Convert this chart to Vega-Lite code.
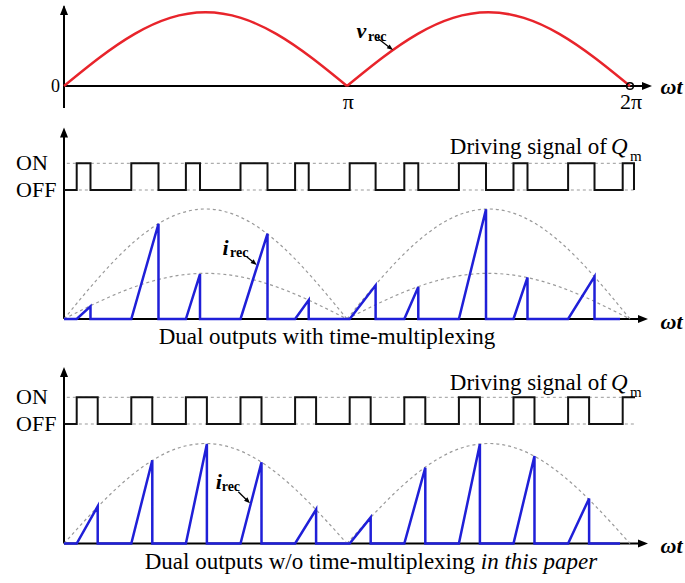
{
 "$schema": "https://vega.github.io/schema/vega-lite/v6.json",
 "padding": 0,
 "spacing": 0,
 "bounds": "flush",
 "background": "white",
 "config": {"view": {"stroke": null}, "axis": {"disable": true}, "font": "Liberation Serif"},
 "datasets": {
  "one": [{}],
  "vrec": [
   {"half":"a","t":0,"v":0},{"half":"a","t":0.125,"v":0.383},{"half":"a","t":0.25,"v":0.707},{"half":"a","t":0.375,"v":0.924},{"half":"a","t":0.5,"v":1},{"half":"a","t":0.625,"v":0.924},{"half":"a","t":0.75,"v":0.707},{"half":"a","t":0.875,"v":0.383},{"half":"a","t":1,"v":0},
   {"half":"b","t":1,"v":0},{"half":"b","t":1.125,"v":0.383},{"half":"b","t":1.25,"v":0.707},{"half":"b","t":1.375,"v":0.924},{"half":"b","t":1.5,"v":1},{"half":"b","t":1.625,"v":0.924},{"half":"b","t":1.75,"v":0.707},{"half":"b","t":1.875,"v":0.383},{"half":"b","t":2,"v":0}
  ],
  "env2": [
   {"env":"b1","t":0,"i":0},{"env":"b1","t":0.125,"i":0.383},{"env":"b1","t":0.25,"i":0.707},{"env":"b1","t":0.375,"i":0.924},{"env":"b1","t":0.5,"i":1},{"env":"b1","t":0.625,"i":0.924},{"env":"b1","t":0.75,"i":0.707},{"env":"b1","t":0.875,"i":0.383},{"env":"b1","t":1,"i":0},
   {"env":"b2","t":1,"i":0},{"env":"b2","t":1.125,"i":0.383},{"env":"b2","t":1.25,"i":0.707},{"env":"b2","t":1.375,"i":0.924},{"env":"b2","t":1.5,"i":1},{"env":"b2","t":1.625,"i":0.924},{"env":"b2","t":1.75,"i":0.707},{"env":"b2","t":1.875,"i":0.383},{"env":"b2","t":2,"i":0},
   {"env":"s1","t":0,"i":0},{"env":"s1","t":0.125,"i":0.159},{"env":"s1","t":0.25,"i":0.293},{"env":"s1","t":0.375,"i":0.383},{"env":"s1","t":0.5,"i":0.415},{"env":"s1","t":0.625,"i":0.383},{"env":"s1","t":0.75,"i":0.293},{"env":"s1","t":0.875,"i":0.159},{"env":"s1","t":1,"i":0},
   {"env":"s2","t":1,"i":0},{"env":"s2","t":1.125,"i":0.159},{"env":"s2","t":1.25,"i":0.293},{"env":"s2","t":1.375,"i":0.383},{"env":"s2","t":1.5,"i":0.415},{"env":"s2","t":1.625,"i":0.383},{"env":"s2","t":1.75,"i":0.293},{"env":"s2","t":1.875,"i":0.159},{"env":"s2","t":2,"i":0}
  ],
  "env3": [
   {"env":"b1","t":0,"i":0},{"env":"b1","t":0.125,"i":0.383},{"env":"b1","t":0.25,"i":0.707},{"env":"b1","t":0.375,"i":0.924},{"env":"b1","t":0.5,"i":1},{"env":"b1","t":0.625,"i":0.924},{"env":"b1","t":0.75,"i":0.707},{"env":"b1","t":0.875,"i":0.383},{"env":"b1","t":1,"i":0},
   {"env":"b2","t":1,"i":0},{"env":"b2","t":1.125,"i":0.383},{"env":"b2","t":1.25,"i":0.707},{"env":"b2","t":1.375,"i":0.924},{"env":"b2","t":1.5,"i":1},{"env":"b2","t":1.625,"i":0.924},{"env":"b2","t":1.75,"i":0.707},{"env":"b2","t":1.875,"i":0.383},{"env":"b2","t":2,"i":0}
  ],
  "sig2": [
   {"k":0,"t":0,"s":0},{"k":1,"t":0.0449,"s":1},{"k":2,"t":0.0936,"s":0},{"k":3,"t":0.2378,"s":1},{"k":4,"t":0.3339,"s":0},{"k":5,"t":0.4307,"s":1},{"k":6,"t":0.4806,"s":0},{"k":7,"t":0.6237,"s":1},{"k":8,"t":0.7191,"s":0},{"k":9,"t":0.8166,"s":1},{"k":10,"t":0.8647,"s":0},{"k":11,"t":1.0095,"s":1},{"k":12,"t":1.1011,"s":0},{"k":13,"t":1.2025,"s":1},{"k":14,"t":1.2519,"s":0},{"k":15,"t":1.3954,"s":1},{"k":16,"t":1.4912,"s":0},{"k":17,"t":1.5883,"s":1},{"k":18,"t":1.6378,"s":0},{"k":19,"t":1.7813,"s":1},{"k":20,"t":1.8746,"s":0},{"k":21,"t":1.9742,"s":1},{"k":22,"t":2.0141,"s":0}
  ],
  "sig3": [
   {"k":0,"t":0,"s":0},{"k":1,"t":0.0449,"s":1},{"k":2,"t":0.1191,"s":0},{"k":3,"t":0.2378,"s":1},{"k":4,"t":0.312,"s":0},{"k":5,"t":0.4307,"s":1},{"k":6,"t":0.5049,"s":0},{"k":7,"t":0.6237,"s":1},{"k":8,"t":0.6979,"s":0},{"k":9,"t":0.8166,"s":1},{"k":10,"t":0.8908,"s":0},{"k":11,"t":1.0095,"s":1},{"k":12,"t":1.0837,"s":0},{"k":13,"t":1.2025,"s":1},{"k":14,"t":1.2767,"s":0},{"k":15,"t":1.3954,"s":1},{"k":16,"t":1.4696,"s":0},{"k":17,"t":1.5883,"s":1},{"k":18,"t":1.6625,"s":0},{"k":19,"t":1.7813,"s":1},{"k":20,"t":1.8555,"s":0},{"k":21,"t":1.9742,"s":1},{"k":22,"t":2.0177,"s":1}
  ],
  "cur2": [
   {"k":0,"t":0,"i":0},{"k":1,"t":0.0449,"i":0},{"k":2,"t":0.0936,"i":0.115},{"k":3,"t":0.0936,"i":0},
   {"k":4,"t":0.2378,"i":0},{"k":5,"t":0.3339,"i":0.866},{"k":6,"t":0.3339,"i":0},
   {"k":7,"t":0.4307,"i":0},{"k":8,"t":0.4806,"i":0.409},{"k":9,"t":0.4806,"i":0},
   {"k":10,"t":0.6237,"i":0},{"k":11,"t":0.7191,"i":0.776},{"k":12,"t":0.7191,"i":0},
   {"k":13,"t":0.8166,"i":0},{"k":14,"t":0.8647,"i":0.172},{"k":15,"t":0.8647,"i":0},
   {"k":16,"t":1.0095,"i":0},{"k":17,"t":1.1011,"i":0.306},{"k":18,"t":1.1011,"i":0},
   {"k":19,"t":1.2025,"i":0},{"k":20,"t":1.2519,"i":0.29},{"k":21,"t":1.2519,"i":0},
   {"k":22,"t":1.3954,"i":0},{"k":23,"t":1.4912,"i":0.998},{"k":24,"t":1.4912,"i":0},
   {"k":25,"t":1.5883,"i":0},{"k":26,"t":1.6378,"i":0.378},{"k":27,"t":1.6378,"i":0},
   {"k":28,"t":1.7813,"i":0},{"k":29,"t":1.8746,"i":0.386},{"k":30,"t":1.8746,"i":0},
   {"k":31,"t":1.9647,"i":0}
  ],
  "cur3": [
   {"k":0,"t":0,"i":0},{"k":1,"t":0.0449,"i":0},{"k":2,"t":0.1191,"i":0.372},{"k":3,"t":0.1191,"i":0},
   {"k":4,"t":0.2378,"i":0},{"k":5,"t":0.312,"i":0.833},{"k":6,"t":0.312,"i":0},
   {"k":7,"t":0.4307,"i":0},{"k":8,"t":0.5049,"i":0.995},{"k":9,"t":0.5049,"i":0},
   {"k":10,"t":0.6237,"i":0},{"k":11,"t":0.6979,"i":0.813},{"k":12,"t":0.6979,"i":0},
   {"k":13,"t":0.8166,"i":0},{"k":14,"t":0.8908,"i":0.34},{"k":15,"t":0.8908,"i":0},
   {"k":16,"t":1.0095,"i":0},{"k":17,"t":1.0837,"i":0.261},{"k":18,"t":1.0837,"i":0},
   {"k":19,"t":1.2025,"i":0},{"k":20,"t":1.2767,"i":0.758},{"k":21,"t":1.2767,"i":0},
   {"k":22,"t":1.3954,"i":0},{"k":23,"t":1.4696,"i":0.995},{"k":24,"t":1.4696,"i":0},
   {"k":25,"t":1.5883,"i":0},{"k":26,"t":1.6625,"i":0.874},{"k":27,"t":1.6625,"i":0},
   {"k":28,"t":1.7813,"i":0},{"k":29,"t":1.8555,"i":0.45},{"k":30,"t":1.8555,"i":0},
   {"k":31,"t":1.9647,"i":0}
  ]
 },
 "vconcat": [
  {
   "width": 685, "height": 115,
   "layer": [
    {"data":{"name":"one"},"mark":{"type":"rule","color":"#000","strokeWidth":2},
     "encoding":{"x":{"datum":0,"type":"quantitative","scale":{"domain":[-0.22615,2.19435],"nice":false,"zero":false}},"x2":{"datum":2.06},"y":{"datum":0,"type":"quantitative","scale":{"domain":[-0.3935,1.1669],"nice":false,"zero":false}}}},
    {"data":{"name":"one"},"mark":{"type":"rule","color":"#000","strokeWidth":2},"encoding":{"x":{"datum":0},"y":{"datum":-0.2985},"y2":{"datum":1.08}}},
    {"data":{"name":"one"},"mark":{"type":"point","shape":"M0,0L-0.8,2L0.8,2Z","filled":true,"color":"#000","size":100,"opacity":1},"encoding":{"x":{"datum":0},"y":{"datum":1.099}}},
    {"data":{"name":"one"},"mark":{"type":"point","shape":"M0,0L-2,-0.8L-2,0.8Z","filled":true,"color":"#000","size":100,"opacity":1},"encoding":{"x":{"datum":2.0777},"y":{"datum":0}}},
    {"data":{"name":"vrec"},"mark":{"type":"line","color":"#e8242b","strokeWidth":2.5,"interpolate":"natural"},"encoding":{"x":{"field":"t","type":"quantitative"},"y":{"field":"v","type":"quantitative"},"detail":{"field":"half"}}},
    {"data":{"name":"one"},"mark":{"type":"point","shape":"circle","filled":false,"color":"#000","strokeWidth":1.5,"size":45,"opacity":1},"encoding":{"x":{"datum":2},"y":{"datum":0}}},
    {"data":{"name":"one"},"mark":{"type":"text","text":"0","fontSize":18,"align":"center","baseline":"middle"},"encoding":{"x":{"datum":-0.03},"y":{"datum":-0.0095}}},
    {"data":{"name":"one"},"mark":{"type":"text","text":"π","fontSize":22,"align":"center","baseline":"middle"},"encoding":{"x":{"datum":1.005},"y":{"datum":-0.217}}},
    {"data":{"name":"one"},"mark":{"type":"text","text":"2π","fontSize":22,"align":"center","baseline":"middle"},"encoding":{"x":{"datum":2.0035},"y":{"datum":-0.217}}},
    {"data":{"name":"one"},"mark":{"type":"text","text":"ωt","fontSize":22,"fontStyle":"italic","fontWeight":"bold","align":"center","baseline":"middle"},"encoding":{"x":{"datum":2.147},"y":{"datum":-0.02}}},
    {"data":{"name":"one"},"mark":{"type":"text","text":"v","fontSize":22,"fontStyle":"italic","fontWeight":"bold","align":"center","baseline":"middle"},"encoding":{"x":{"datum":1.0512},"y":{"datum":0.742}}},
    {"data":{"name":"one"},"mark":{"type":"text","text":"rec","fontSize":14,"fontWeight":"bold","align":"left","baseline":"middle"},"encoding":{"x":{"datum":1.0742},"y":{"datum":0.66}}},
    {"data":{"name":"one"},"mark":{"type":"rule","color":"#000","strokeWidth":1.3},"encoding":{"x":{"datum":1.1085},"y":{"datum":0.6472},"x2":{"datum":1.155},"y2":{"datum":0.51}}},
    {"data":{"name":"one"},"mark":{"type":"point","shape":"M0,0L-0.8,2L0.8,2Z","filled":true,"color":"#000","size":36,"angle":127,"opacity":1},"encoding":{"x":{"datum":1.1625},"y":{"datum":0.4885}}}
   ]
  },
  {
   "width": 685, "height": 85,
   "layer": [
    {"data":{"name":"one"},"mark":{"type":"rule","color":"#000","strokeWidth":2},
     "encoding":{"x":{"datum":0,"type":"quantitative","scale":{"domain":[-0.22615,2.19435],"nice":false,"zero":false}},"y":{"datum":-0.5,"type":"quantitative","scale":{"domain":[-0.3745,2.809],"nice":false,"zero":false}},"y2":{"datum":2.2}}},
    {"data":{"name":"one"},"mark":{"type":"point","shape":"M0,0L-0.8,2L0.8,2Z","filled":true,"color":"#000","size":100,"opacity":1},"encoding":{"x":{"datum":0},"y":{"datum":2.341}}},
    {"data":{"name":"one"},"mark":{"type":"rule","color":"#999","strokeWidth":1,"strokeDash":[3,3]},"encoding":{"x":{"datum":0.01},"x2":{"datum":2.02},"y":{"datum":1}}},
    {"data":{"name":"one"},"mark":{"type":"rule","color":"#999","strokeWidth":1,"strokeDash":[3,3]},"encoding":{"x":{"datum":0.01},"x2":{"datum":2.02},"y":{"datum":0}}},
    {"data":{"name":"sig2"},"mark":{"type":"line","color":"#111","strokeWidth":2,"interpolate":"step-after"},"encoding":{"x":{"field":"t","type":"quantitative"},"y":{"field":"s","type":"quantitative"},"order":{"field":"k","type":"quantitative"}}},
    {"data":{"name":"one"},"mark":{"type":"text","text":"ON","fontSize":22,"align":"left","baseline":"middle"},"encoding":{"x":{"datum":-0.1696},"y":{"datum":1}}},
    {"data":{"name":"one"},"mark":{"type":"text","text":"OFF","fontSize":22,"align":"left","baseline":"middle"},"encoding":{"x":{"datum":-0.1696},"y":{"datum":0}}},
    {"data":{"name":"one"},"mark":{"type":"text","text":"Driving signal of","fontSize":23,"align":"right","baseline":"middle"},"encoding":{"x":{"datum":1.9187},"y":{"datum":1.61}}},
    {"data":{"name":"one"},"mark":{"type":"text","text":"Q","fontSize":23,"fontStyle":"italic","align":"left","baseline":"middle"},"encoding":{"x":{"datum":1.933},"y":{"datum":1.61}}},
    {"data":{"name":"one"},"mark":{"type":"text","text":"m","fontSize":15,"align":"left","baseline":"middle"},"encoding":{"x":{"datum":2.0},"y":{"datum":1.27}}}
   ]
  },
  {
   "width": 685, "height": 150,
   "layer": [
    {"data":{"name":"one"},"mark":{"type":"rule","color":"#000","strokeWidth":2},
     "encoding":{"x":{"datum":0,"type":"quantitative","scale":{"domain":[-0.22615,2.19435],"nice":false,"zero":false}},"y":{"datum":0,"type":"quantitative","scale":{"domain":[-0.2818,1.0818],"nice":false,"zero":false}},"y2":{"datum":1.1}}},
    {"data":{"name":"one"},"mark":{"type":"rule","color":"#000","strokeWidth":2},"encoding":{"x":{"datum":0},"x2":{"datum":2.05},"y":{"datum":0}}},
    {"data":{"name":"one"},"mark":{"type":"point","shape":"M0,0L-2,-0.8L-2,0.8Z","filled":true,"color":"#000","size":100,"opacity":1},"encoding":{"x":{"datum":2.0636},"y":{"datum":0}}},
    {"data":{"name":"env2"},"mark":{"type":"line","color":"#9a9a9a","strokeWidth":1.2,"strokeDash":[3,3],"interpolate":"natural"},"encoding":{"x":{"field":"t","type":"quantitative"},"y":{"field":"i","type":"quantitative"},"detail":{"field":"env"}}},
    {"data":{"name":"cur2"},"mark":{"type":"line","color":"#1f1fd8","strokeWidth":2.5},"encoding":{"x":{"field":"t","type":"quantitative"},"y":{"field":"i","type":"quantitative"},"order":{"field":"k","type":"quantitative"}}},
    {"data":{"name":"one"},"mark":{"type":"text","text":"ωt","fontSize":22,"fontStyle":"italic","fontWeight":"bold","align":"center","baseline":"middle"},"encoding":{"x":{"datum":2.147},"y":{"datum":-0.0245}}},
    {"data":{"name":"one"},"mark":{"type":"text","text":"Dual outputs with time-multiplexing","fontSize":23,"align":"center","baseline":"middle"},"encoding":{"x":{"datum":0.9293},"y":{"datum":-0.168}}},
    {"data":{"name":"one"},"mark":{"type":"text","text":"i","fontSize":22,"fontStyle":"italic","fontWeight":"bold","align":"center","baseline":"middle"},"encoding":{"x":{"datum":0.5707},"y":{"datum":0.6455}}},
    {"data":{"name":"one"},"mark":{"type":"text","text":"rec","fontSize":14,"fontWeight":"bold","align":"left","baseline":"middle"},"encoding":{"x":{"datum":0.5866},"y":{"datum":0.6}}},
    {"data":{"name":"one"},"mark":{"type":"rule","color":"#000","strokeWidth":1.3},"encoding":{"x":{"datum":0.6456},"y":{"datum":0.566},"x2":{"datum":0.675},"y2":{"datum":0.505}}},
    {"data":{"name":"one"},"mark":{"type":"point","shape":"M0,0L-0.8,2L0.8,2Z","filled":true,"color":"#000","size":36,"angle":130,"opacity":1},"encoding":{"x":{"datum":0.681},"y":{"datum":0.491}}}
   ]
  },
  {
   "width": 685, "height": 83,
   "layer": [
    {"data":{"name":"one"},"mark":{"type":"rule","color":"#000","strokeWidth":2},
     "encoding":{"x":{"datum":0,"type":"quantitative","scale":{"domain":[-0.22615,2.19435],"nice":false,"zero":false}},"y":{"datum":-0.5,"type":"quantitative","scale":{"domain":[-0.337,2.7715],"nice":false,"zero":false}},"y2":{"datum":2.0}}},
    {"data":{"name":"one"},"mark":{"type":"point","shape":"M0,0L-0.8,2L0.8,2Z","filled":true,"color":"#000","size":100,"opacity":1},"encoding":{"x":{"datum":0},"y":{"datum":2.135}}},
    {"data":{"name":"one"},"mark":{"type":"rule","color":"#999","strokeWidth":1,"strokeDash":[3,3]},"encoding":{"x":{"datum":0.01},"x2":{"datum":2.02},"y":{"datum":1}}},
    {"data":{"name":"one"},"mark":{"type":"rule","color":"#999","strokeWidth":1,"strokeDash":[3,3]},"encoding":{"x":{"datum":0.01},"x2":{"datum":2.02},"y":{"datum":0}}},
    {"data":{"name":"sig3"},"mark":{"type":"line","color":"#111","strokeWidth":2,"interpolate":"step-after"},"encoding":{"x":{"field":"t","type":"quantitative"},"y":{"field":"s","type":"quantitative"},"order":{"field":"k","type":"quantitative"}}},
    {"data":{"name":"one"},"mark":{"type":"text","text":"ON","fontSize":22,"align":"left","baseline":"middle"},"encoding":{"x":{"datum":-0.1696},"y":{"datum":1}}},
    {"data":{"name":"one"},"mark":{"type":"text","text":"OFF","fontSize":22,"align":"left","baseline":"middle"},"encoding":{"x":{"datum":-0.1696},"y":{"datum":0}}},
    {"data":{"name":"one"},"mark":{"type":"text","text":"Driving signal of","fontSize":23,"align":"right","baseline":"middle"},"encoding":{"x":{"datum":1.9187},"y":{"datum":1.536}}},
    {"data":{"name":"one"},"mark":{"type":"text","text":"Q","fontSize":23,"fontStyle":"italic","align":"left","baseline":"middle"},"encoding":{"x":{"datum":1.933},"y":{"datum":1.536}}},
    {"data":{"name":"one"},"mark":{"type":"text","text":"m","fontSize":15,"align":"left","baseline":"middle"},"encoding":{"x":{"datum":2.0},"y":{"datum":1.2}}}
   ]
  },
  {
   "width": 685, "height": 150,
   "layer": [
    {"data":{"name":"one"},"mark":{"type":"rule","color":"#000","strokeWidth":2},
     "encoding":{"x":{"datum":0,"type":"quantitative","scale":{"domain":[-0.22615,2.19435],"nice":false,"zero":false}},"y":{"datum":0,"type":"quantitative","scale":{"domain":[-0.395,1.105],"nice":false,"zero":false}},"y2":{"datum":1.2}}},
    {"data":{"name":"one"},"mark":{"type":"rule","color":"#000","strokeWidth":2},"encoding":{"x":{"datum":0},"x2":{"datum":2.05},"y":{"datum":0}}},
    {"data":{"name":"one"},"mark":{"type":"point","shape":"M0,0L-2,-0.8L-2,0.8Z","filled":true,"color":"#000","size":100,"opacity":1},"encoding":{"x":{"datum":2.0636},"y":{"datum":0}}},
    {"data":{"name":"env3"},"mark":{"type":"line","color":"#9a9a9a","strokeWidth":1.2,"strokeDash":[3,3],"interpolate":"natural"},"encoding":{"x":{"field":"t","type":"quantitative"},"y":{"field":"i","type":"quantitative"},"detail":{"field":"env"}}},
    {"data":{"name":"cur3"},"mark":{"type":"line","color":"#1f1fd8","strokeWidth":2.5},"encoding":{"x":{"field":"t","type":"quantitative"},"y":{"field":"i","type":"quantitative"},"order":{"field":"k","type":"quantitative"}}},
    {"data":{"name":"one"},"mark":{"type":"text","text":"ωt","fontSize":22,"fontStyle":"italic","fontWeight":"bold","align":"center","baseline":"middle"},"encoding":{"x":{"datum":2.147},"y":{"datum":-0.023}}},
    {"data":{"name":"one"},"mark":{"type":"text","text":"Dual outputs w/o time-multiplexing","fontSize":23,"align":"right","baseline":"middle"},"encoding":{"x":{"datum":1.4523},"y":{"datum":-0.185}}},
    {"data":{"name":"one"},"mark":{"type":"text","text":"in this paper","fontSize":23,"fontStyle":"italic","align":"left","baseline":"middle"},"encoding":{"x":{"datum":1.4728},"y":{"datum":-0.185}}},
    {"data":{"name":"one"},"mark":{"type":"text","text":"i","fontSize":22,"fontStyle":"italic","fontWeight":"bold","align":"center","baseline":"middle"},"encoding":{"x":{"datum":0.5466},"y":{"datum":0.618}}},
    {"data":{"name":"one"},"mark":{"type":"text","text":"rec","fontSize":14,"fontWeight":"bold","align":"left","baseline":"middle"},"encoding":{"x":{"datum":0.5572},"y":{"datum":0.57}}},
    {"data":{"name":"one"},"mark":{"type":"rule","color":"#000","strokeWidth":1.3},"encoding":{"x":{"datum":0.6159},"y":{"datum":0.518},"x2":{"datum":0.651},"y2":{"datum":0.42}}},
    {"data":{"name":"one"},"mark":{"type":"point","shape":"M0,0L-0.8,2L0.8,2Z","filled":true,"color":"#000","size":36,"angle":135,"opacity":1},"encoding":{"x":{"datum":0.6572},"y":{"datum":0.402}}}
   ]
  }
 ]
}
